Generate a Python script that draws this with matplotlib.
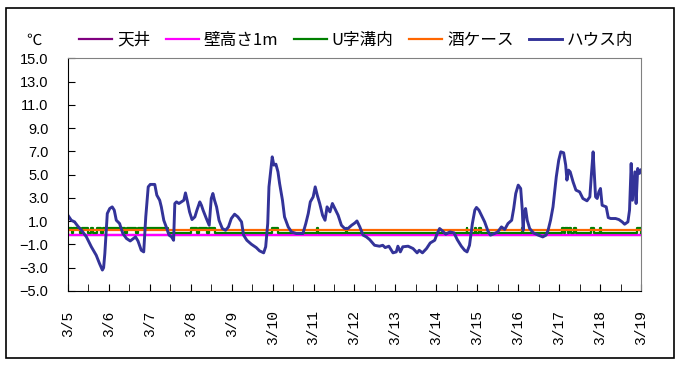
import numpy as np
import matplotlib
matplotlib.use("Agg")
from matplotlib import pyplot as plt
from matplotlib.patches import Rectangle

plt.rcParams["font.family"] = ["Noto Sans CJK JP", "DejaVu Sans"]

# series names (legend order)
names = ["天井", "壁高さ1m", "U字溝内", "酒ケース", "ハウス内"]
colors = ["#800080", "#FF00FF", "#008000", "#FF6600", "#333399"]

# x tick labels, one per day from 3/5
day_labels = ["3/%d" % d for d in range(5, 20)]

# near-constant sensors (°C)
tenjo_level = -0.2
kabe_level = -0.2
sake_level = 0.2
u_base = 0.0
u_high = 0.4
# spans (days since 3/5 0:00) where the U-ditch reading jumps up
u_high_spans = [(0.00, 0.10), (0.13, 0.30), (0.35, 0.50), (0.55, 0.62), (0.70, 0.80),
                (0.86, 1.40), (1.45, 1.65), (1.70, 2.45), (3.00, 3.15), (3.20, 3.40),
                (3.45, 3.60), (4.99, 5.12), (6.08, 6.10), (6.80, 6.82), (9.74, 9.76),
                (9.94, 9.97), (10.05, 10.08), (11.09, 11.11), (12.08, 12.12),
                (12.15, 12.22), (12.24, 12.28), (12.36, 12.42), (12.78, 12.86),
                (13.00, 13.02), (13.90, 14.00)]

# greenhouse air temperature (days since 3/5, °C)
house_t = [0.00, 0.08, 0.16, 0.24, 0.33, 0.45, 0.57, 0.69, 0.77, 0.84, 0.87, 0.90,
           0.96, 1.02, 1.08, 1.13, 1.18, 1.26, 1.34, 1.43, 1.52, 1.60, 1.65, 1.71,
           1.79, 1.85, 1.90, 1.96, 2.01, 2.12, 2.17, 2.24, 2.28, 2.34, 2.40, 2.47,
           2.53, 2.58, 2.61, 2.65, 2.71, 2.77, 2.83, 2.87, 2.92, 2.97, 3.03, 3.10,
           3.15, 3.22, 3.26, 3.30, 3.38, 3.45, 3.50, 3.54, 3.58, 3.63, 3.69, 3.77,
           3.85, 3.92, 3.99, 4.07, 4.15, 4.24, 4.29, 4.37, 4.48, 4.60, 4.68, 4.78,
           4.83, 4.86, 4.88, 4.91, 4.95, 4.99, 5.03, 5.08, 5.13, 5.17, 5.24, 5.29,
           5.38, 5.46, 5.58, 5.74, 5.81, 5.87, 5.92, 5.99, 6.04, 6.09, 6.15, 6.22,
           6.28, 6.33, 6.40, 6.46, 6.52, 6.60, 6.68, 6.76, 6.84, 6.93, 7.01, 7.06,
           7.13, 7.21, 7.29, 7.37, 7.49, 7.61, 7.69, 7.75, 7.84, 7.94, 8.02, 8.06,
           8.12, 8.18, 8.31, 8.43, 8.53, 8.58, 8.66, 8.76, 8.85, 8.96, 9.02, 9.08,
           9.15, 9.23, 9.33, 9.43, 9.51, 9.61, 9.69, 9.75, 9.81, 9.88, 9.94, 9.98,
           10.04, 10.10, 10.18, 10.26, 10.32, 10.42, 10.50, 10.59, 10.67, 10.75,
           10.84, 10.89, 10.94, 11.00, 11.06, 11.10, 11.12, 11.14, 11.18, 11.22,
           11.28, 11.37, 11.49, 11.60, 11.68, 11.73, 11.79, 11.85, 11.93, 11.99,
           12.04, 12.11, 12.16, 12.19, 12.23, 12.27, 12.34, 12.41, 12.50, 12.58,
           12.68, 12.75, 12.79, 12.83, 12.86, 12.89, 12.93, 12.97, 13.01, 13.05,
           13.15, 13.20, 13.26, 13.38, 13.46, 13.54, 13.60, 13.68, 13.72, 13.76,
           13.79, 13.85, 13.88, 13.92, 13.96, 14.00]
house_v = [1.5, 1.08, 0.94, 0.57, 0.22, -0.35, -1.2, -1.93, -2.64, -3.2, -3.0, -1.78,
           1.66, 2.09, 2.23, 1.95, 1.08, 0.8, -0.06, -0.49, -0.7, -0.49, -0.35, -0.7,
           -1.5, -1.64, 1.37, 3.95, 4.16, 4.16, 3.24, 2.8, 2.23, 1.08, 0.51, -0.2,
           -0.35, -0.64, 2.52, 2.66, 2.52, 2.66, 2.8, 3.43, 2.66, 1.8, 1.14, 1.37,
           1.95, 2.66, 2.37, 1.95, 1.23, 0.65, 2.95, 3.38, 2.8, 2.23, 1.08, 0.37,
           0.22, 0.51, 1.23, 1.6, 1.37, 0.94, -0.2, -0.64, -0.98, -1.27, -1.55, -1.72,
           -1.2, -0.06, 0.8, 3.95, 5.24, 6.53, 5.82, 5.9, 5.24, 4.24, 2.8, 1.37,
           0.51, 0.08, -0.06, -0.06, 0.8, 1.66, 2.66, 3.09, 3.95, 3.24, 2.52, 1.51,
           1.08, 2.23, 1.8, 2.52, 2.09, 1.51, 0.65, 0.37, 0.37, 0.65, 0.85, 1.02,
           0.51, -0.2, -0.35, -0.58, -1.07, -1.15, -1.07, -1.27, -1.15, -1.72, -1.64, -1.15,
           -1.64, -1.2, -1.15, -1.35, -1.72, -1.5, -1.72, -1.35, -0.87, -0.64, -0.06, 0.37,
           0.16, -0.12, 0.08, 0.0, -0.58, -1.15, -1.5, -1.64, -1.07, 0.8, 1.95, 2.18,
           1.95, 1.51, 0.94, 0.16, -0.2, -0.06, 0.08, 0.51, 0.29, 0.8,
           1.08, 2.09, 3.38, 4.1, 3.81, 1.95, 0.22, 1.37, 2.09, 1.08,
           0.37, 0.0, -0.2, -0.35, -0.2, 0.22, 1.08, 2.23, 4.81, 6.25,
           6.96, 6.88, 5.82, 4.53, 5.39, 5.24, 4.38, 3.67, 3.52, 2.95,
           2.75, 3.09, 5.1, 6.96, 5.1, 3.09, 2.95, 3.52, 3.81, 2.37,
           2.23, 1.31, 1.23, 1.23, 1.14, 0.94, 0.74, 0.94, 1.95, 5.96,
           2.8, 5.24, 2.52, 5.53, 5.1, 5.39]

# step series for the U-ditch sensor
u_t = [0.0]
u_v = [u_base]
for s, e in u_high_spans:
    u_t += [s, s, e, e]
    u_v += [u_base, u_high, u_high, u_base]
u_t.append(14.0)
u_v.append(u_base)

fig = plt.figure(figsize=(6.81, 3.67), dpi=100)
fig.patches.append(Rectangle((6 / 681, 1 - 358 / 367), 668 / 681, 350 / 367,
                             transform=fig.transFigure, fill=False,
                             edgecolor="black", lw=1.2))
ax = fig.add_axes([68 / 681, 1 - 291 / 367, 573 / 681, (291 - 58.3) / 367])

ax.plot([0, 14], [tenjo_level] * 2, color=colors[0], lw=1.6, label=names[0])
ax.plot([0, 14], [kabe_level] * 2, color=colors[1], lw=1.6, label=names[1])
ax.plot(u_t, u_v, color=colors[2], lw=1.6, label=names[2])
ax.plot([0, 14], [sake_level] * 2, color=colors[3], lw=1.6, label=names[3])
ax.plot(house_t, house_v, color=colors[4], lw=2.1, label=names[4])

ax.set_xlim(0, 14)
ax.set_ylim(-5, 15)
yt = np.arange(-5, 16, 2)
ax.set_yticks(yt)
ax.set_yticklabels([("%.1f" % v).replace("-", "\u2212") for v in yt],
                   family="Liberation Sans", fontsize=10.5)
ax.set_xticks(np.arange(0, 15, 1))
ax.set_xticks(np.arange(0, 14.01, 0.5), minor=True)
ax.set_xticklabels(day_labels, rotation=90, family="Liberation Mono", fontsize=10.5,
                   va="top")
ax.tick_params(axis="y", direction="in", length=5, pad=14, color="black")
ax.tick_params(axis="x", which="both", direction="in", length=5, pad=14)

for side in ["top", "right"]:
    ax.spines[side].set_color("#808080")
for side in ["left", "bottom"]:
    ax.spines[side].set_color("black")

fig.text(34 / 681, 1 - 40 / 367, "℃", fontsize=11, ha="center", va="center")
fig.legend(loc="center left", bbox_to_anchor=(79 / 681, 1 - 40 / 367), ncol=5,
           frameon=False, fontsize=12, handlelength=2.0, handletextpad=0.3,
           columnspacing=0.9, borderpad=0, borderaxespad=0)

fig.savefig("out.png", dpi=100)
